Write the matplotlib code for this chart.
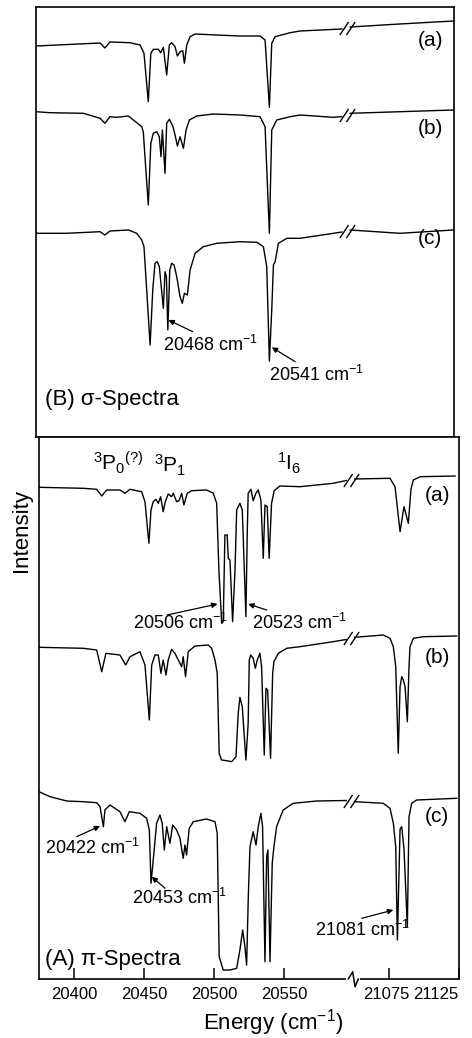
import numpy as np
import matplotlib
matplotlib.use("Agg")
import matplotlib.pyplot as plt
from matplotlib.path import Path
from matplotlib.transforms import ScaledTranslation

plt.rcParams['font.family'] = ['Liberation Sans', 'DejaVu Sans']
plt.rcParams['mathtext.default'] = 'regular'

# ---------------- data (energy in cm^-1, intensity in arbitrary units) ----------------
# (B) sigma spectra
sigma_a_x = [20375, 20421, 20424.5, 20428, 20442.5, 20449.7, 20452.5, 20455.6, 20457.4, 20459.2,
             20462.8, 20464.5, 20466.4, 20468.8, 20470.7, 20472.4, 20474.8, 20476.5, 20478.4, 20480.3,
             20481.5, 20483.2, 20485.6, 20489.2, 20504.7, 20521.5, 20535.8, 20539.4, 20542.5, 20544.2,
             20546.6, 20557.4, 20564.5, 20594.5, 21050.5, 21086, 21124.4]
sigma_a_y = [391, 394, 389, 395, 394.3, 392, 383.7, 335.3, 383.7, 387.7,
             387.7, 384.3, 389.7, 362, 392, 394.3, 390.3, 381, 385.3, 386.3,
             373.7, 392, 400.3, 403, 402, 401, 401, 397, 329.7, 393.7,
             400.3, 404.3, 406, 408, 410, 413, 416]

sigma_b_x = [20375, 20385, 20409, 20421, 20424.5, 20428, 20433, 20441.3, 20444.9, 20450.9,
             20452, 20455.6, 20457.4, 20459.2, 20461.7, 20463.5, 20464.7, 20465.7, 20467.6, 20468.8,
             20470.7, 20473.2, 20474.8, 20476.5, 20478.4, 20480.8, 20482.7, 20485.1, 20490.4, 20502.3,
             20521.5, 20535.8, 20539.4, 20542.5, 20544.2, 20547.8, 20557.4, 20564.5, 20588.2, 20594.5,
             21050.5, 21086.3, 21124.4]
sigma_b_y = [325.3, 324.3, 323.7, 318.7, 313.7, 320.3, 319.7, 321, 317, 310.3,
             305, 232, 293.7, 303.7, 305.3, 300.3, 280.3, 307, 263.7, 313.7,
             317.7, 311, 302, 291, 300.3, 288.7, 307, 317, 321, 323,
             322, 320.3, 310.3, 203.7, 307, 317, 320.3, 322, 319.7, 320.3,
             323.7, 325.3, 327]

sigma_c_x = [20375, 20397, 20421, 20424.5, 20428, 20441.3, 20447.3, 20450.9, 20452.5, 20456.9,
             20458.8, 20460.4, 20462.1, 20463.5, 20466.4, 20467.6, 20468.6, 20469.6, 20471.0, 20472.4,
             20474.1, 20476, 20478.4, 20480, 20481.5, 20483.6, 20485.6, 20489.2, 20495.1, 20504.7,
             20521.5, 20533.5, 20538.2, 20540.6, 20542.5, 20544.2, 20545.4, 20546.6, 20549, 20555,
             20564.5, 20588.5, 20594.5, 21050.5, 21086.3, 21124.4]
sigma_c_y = [203.7, 203.7, 205.3, 202, 206, 207, 203.7, 197, 190.3, 92,
             147, 173.7, 175.3, 170.3, 128.7, 165.3, 160.3, 107, 167, 173.7,
             172, 160.3, 140.3, 133.7, 143.7, 142, 167, 183.7, 190.3, 193.7,
             195.3, 194.7, 190.3, 170.3, 76, 127, 172, 175.3, 193.7, 198.7,
             198.7, 203.7, 205, 207, 203.7, 207]

# (A) pi spectra
pi_a_x = [20375, 20406.6, 20416.2, 20419.8, 20423.3, 20432.8, 20436.4, 20440, 20448.3, 20450.7,
          20453.5, 20455, 20456.6, 20458.5, 20460.2, 20461.9, 20463.7, 20465.2, 20467.3, 20469.7,
          20470.9, 20473.3, 20475, 20476.9, 20478.5, 20480.9, 20484, 20494.7, 20499.5, 20501.9,
          20503.5, 20505.5, 20506.6, 20507.8, 20509.4, 20510.2, 20511.4, 20513.3, 20515, 20516.2,
          20518.5, 20520.2, 20522.8, 20523.7, 20524.4, 20526.4, 20528, 20529.9, 20531.6, 20533.5,
          20535.2, 20536.4, 20538, 20539.4, 20541.1, 20543, 20547.1, 20561.4, 20585.1, 20594.5,
          21050.5, 21075.7, 21079.3, 21082.9, 21085.7, 21088.8, 21090.7, 21092.4, 21097.2, 21122.2]
pi_a_y = [491.7, 490.7, 489.7, 483, 489, 489, 485.7, 489.7, 487.3, 477.3,
          435.7, 469, 477.3, 479.7, 475.7, 482.3, 467.3, 477.3, 485, 482.3,
          485.7, 477.3, 478.3, 485.7, 474, 485.7, 488.3, 489, 485.7, 475.7,
          409, 355.7, 357.3, 444, 444, 420.7, 419, 357.3, 409, 469,
          475.7, 469, 362.3, 442.3, 485.7, 489.7, 478.3, 485.7, 489, 479,
          420.7, 474, 472.3, 420.7, 475.7, 488.3, 493, 492.3, 495.7, 498.5,
          500, 500.7, 492.3, 447.3, 472.3, 455.7, 490, 499, 502.3, 503]

pi_b_x = [20375, 20406.6, 20416.2, 20419.8, 20422.8, 20432.8, 20436.9, 20440, 20447.1, 20450.7,
          20453.8, 20455.5, 20457.8, 20460.2, 20462.1, 20463.7, 20465.7, 20467.3, 20469.7, 20472.1,
          20474.5, 20476.9, 20478, 20479.7, 20481.6, 20486.4, 20495.9, 20498.3, 20500.7, 20502.3,
          20503.7, 20505.4, 20509, 20512.6, 20515.7, 20517.3, 20518.5, 20520.2, 20522.8, 20524.4,
          20525.2, 20526.2, 20528, 20529.5, 20530.9, 20532.8, 20534, 20535.9, 20537.1, 20538.3,
          20540.4, 20541.9, 20542.8, 20545.9, 20551.9, 20561.4, 20585.1, 20594.5, 21050.5, 21070.9,
          21075.7, 21078.1, 21079.8, 21081.6, 21082.9, 21084.1, 21085.2, 21086.5, 21088.1, 21089.3,
          21090, 21092.4, 21099.5, 21123.3]
pi_b_y = [331.7, 330.7, 329, 307.3, 325.7, 324, 314, 322.3, 327.3, 314,
          259, 314, 324, 324, 305.7, 319, 304, 319, 329.7, 325.7,
          319, 312.3, 322.3, 302.3, 327.3, 333, 334, 330.7, 319, 305.7,
          225.7, 219, 218.3, 217.3, 222.3, 265.7, 281.7, 272.3, 219, 255.7,
          319, 324, 320.7, 310.7, 319, 325.7, 312.3, 224, 290.7, 289,
          220.7, 305.7, 317.3, 325.7, 330.7, 332.3, 337.3, 339.5, 341.7, 344,
          340.7, 332.3, 312.3, 225.7, 292.3, 302.3, 299, 292.3, 257.3, 312.3,
          332.3, 340.7, 342.3, 343]

pi_c_x = [20375, 20382.9, 20394.8, 20406.6, 20416.2, 20418.6, 20421, 20422.1, 20425.7, 20432.8,
          20436.4, 20439.5, 20447.1, 20451.9, 20453.8, 20455, 20456.6, 20459, 20461.4, 20463,
          20464.5, 20466.2, 20468.5, 20470.5, 20473.3, 20475.7, 20478, 20479.3, 20480.4, 20482.3,
          20485.2, 20494.7, 20500.7, 20502.3, 20503.7, 20506.6, 20511.4, 20516.2, 20518.5, 20520.5,
          20522.1, 20523.3, 20524.5, 20525.7, 20528, 20530, 20531.6, 20533.5, 20534.7, 20536.4,
          20537.6, 20538.5, 20540, 20541.6, 20542.8, 20544.7, 20549.4, 20556.6, 20573.3, 20594.5,
          21050.5, 21070.9, 21075.7, 21078.1, 21079.8, 21081, 21082.9, 21084.1, 21085.7, 21088.1,
          21089.3, 21091.2, 21094.7, 21123.3]
pi_c_y = [187.3, 182.3, 178, 177.3, 176.3, 172.3, 152.3, 169, 174, 167.3,
          157.3, 167.3, 165.7, 160.7, 149, 95.7, 119, 155.7, 164, 155.7,
          129, 152.3, 135.7, 154, 149, 140.7, 120.7, 134, 124, 150.7,
          157.3, 160, 157.3, 145.7, 22.3, 9, 9, 10.7, 29, 49,
          32.3, 14, 82.3, 132.3, 147.3, 134, 152.3, 165.7, 152.3, 17.3,
          122.3, 129, 17.3, 115.7, 132.3, 152.3, 169, 175.7, 178, 178.5,
          177.3, 175.7, 170.7, 155.7, 132.3, 39, 150, 152.3, 130, 52.3,
          162.3, 175.7, 179, 180.7]

xticks = [20400, 20450, 20500, 20550, 21075, 21125]
xtick_labels = ['20400', '20450', '20500', '20550', '21075', '21125']
trace_labels = ['(a)', '(b)', '(c)']

# ---------------- broken energy axis via a function scale ----------------
BREAK_LO, BREAK_HI = 20600, 21050
GAP = BREAK_HI - BREAK_LO


def fwd(x):
    x = np.asarray(x, dtype=float)
    return np.where(x <= BREAK_LO, x, x - GAP)


def inv(x):
    x = np.asarray(x, dtype=float)
    return np.where(x <= BREAK_LO, x, x + GAP)


slash_marker = Path([(-7, -6), (1, 6), (-1, -6), (7, 6)],
                    [Path.MOVETO, Path.LINETO, Path.MOVETO, Path.LINETO])

W, H = 472, 1038
fig = plt.figure(figsize=(W / 100, H / 100), dpi=100)
ax_s = fig.add_axes([36 / W, 1 - 437 / H, 418 / W, 430 / H])
ax_p = fig.add_axes([39 / W, 1 - 979 / H, 420 / W, 542 / H])

for ax in (ax_s, ax_p):
    ax.set_xscale('function', functions=(fwd, inv))
    ax.set_xlim(20375, 21125)
    ax.set_yticks([])
    for sp in ax.spines.values():
        sp.set_linewidth(1.2)

ax_s.set_ylim(0, 430)
ax_p.set_ylim(0, 542)


def draw_trace(ax, xs, ys):
    xs = np.asarray(xs, float)
    ys = np.asarray(ys, float)
    left = xs < BREAK_LO
    right = xs >= BREAK_HI
    ax.plot(xs[left], ys[left], color='black', lw=1.0)
    ax.plot(xs[right], ys[right], color='black', lw=1.0)
    yb = 0.5 * (ys[left][-1] + ys[right][0])
    ax.plot([20598], [yb], marker=slash_marker, ms=11, mew=1.0,
            color='black', linestyle='none')


for xs, ys in ((sigma_a_x, sigma_a_y), (sigma_b_x, sigma_b_y), (sigma_c_x, sigma_c_y)):
    draw_trace(ax_s, xs, ys)
for xs, ys in ((pi_a_x, pi_a_y), (pi_b_x, pi_b_y), (pi_c_x, pi_c_y)):
    draw_trace(ax_p, xs, ys)

# ticks
ax_s.set_xticks([])
ax_p.set_xticks(xticks)
ax_p.set_xticklabels(xtick_labels)
ax_p.tick_params(axis='x', direction='in', length=8, width=1.1, pad=6, labelsize=12)
tlabels = ax_p.get_xticklabels()
tlabels[-1].set_ha('right')
tlabels[-1].set_transform(tlabels[-1].get_transform() + ScaledTranslation(-1 / 100, 0, fig.dpi_scale_trans))
tlabels[-2].set_transform(tlabels[-2].get_transform() + ScaledTranslation(-2.5 / 100, 0, fig.dpi_scale_trans))

# axis break zigzag on bottom spine
bx = 0.75
zx = [bx - 5.7 / 420, bx - 1.3 / 420, bx + 1.0 / 420, bx + 4.3 / 420]
zy = [0, 7.3 / 542, -7.7 / 542, 0]
ax_p.plot([zx[0], zx[-1]], [0, 0], color='white', lw=3, transform=ax_p.transAxes,
          clip_on=False, zorder=5)
ax_p.plot(zx, zy, color='black', lw=1.1, transform=ax_p.transAxes, clip_on=False, zorder=6)

arrow_kw = dict(arrowstyle='-|>', color='black', lw=0.9, mutation_scale=8, shrinkA=0, shrinkB=0)
note_fs = 13
lab_fs = 16

# ---- top panel annotations
ax_s.text(20466.2, 92, '20468 cm$^{-1}$', fontsize=note_fs, ha='left', va='center')
ax_s.annotate('', xy=(20470.0, 117), xytext=(20487.5, 105.3), arrowprops=arrow_kw)
ax_s.text(20542.3, 62, '20541 cm$^{-1}$', fontsize=note_fs, ha='left', va='center')
ax_s.annotate('', xy=(20544.2, 89.7), xytext=(20561, 75.3), arrowprops=arrow_kw)
ax_s.text(20381.5, 37, '(B) σ-Spectra', fontsize=lab_fs, ha='left', va='center')
for lab, yy in zip(trace_labels, (397, 309, 198)):
    ax_s.text(21099.3, yy, lab, fontsize=15, ha='left', va='center')

# ---- bottom panel annotations
ax_p.text(20431.4, 516, r'$^3$P$_0{}^{(?)}$', fontsize=15, ha='center', va='center')
ax_p.text(20468.5, 514, r'$^3$P$_1$', fontsize=15, ha='center', va='center')
ax_p.text(20553.5, 516, r'$^1$I$_6$', fontsize=15, ha='center', va='center')

ax_p.text(20442.1, 356, '20506 cm$^{-1}$', fontsize=note_fs, ha='left', va='center')
ax_p.annotate('', xy=(20502.5, 375), xytext=(20466.4, 364), arrowprops=arrow_kw)
ax_p.text(20527.1, 356, '20523 cm$^{-1}$', fontsize=note_fs, ha='left', va='center')
ax_p.annotate('', xy=(20524.4, 375), xytext=(20537.6, 369), arrowprops=arrow_kw)
ax_p.text(20379.3, 130.7, '20422 cm$^{-1}$', fontsize=note_fs, ha='left', va='center')
ax_p.annotate('', xy=(20418.6, 153), xytext=(20401.9, 142.3), arrowprops=arrow_kw)
ax_p.text(20441.2, 81, '20453 cm$^{-1}$', fontsize=note_fs, ha='left', va='center')
ax_p.annotate('', xy=(20455.5, 102.3), xytext=(20465, 90.7), arrowprops=arrow_kw)
ax_p.text(20572.1, 49, '21081 cm$^{-1}$', fontsize=note_fs, ha='left', va='center')
ax_p.annotate('', xy=(21078.1, 69), xytext=(21055.5, 60.7), arrowprops=arrow_kw)
ax_p.text(20379.3, 19, '(A) π-Spectra', fontsize=lab_fs, ha='left', va='center')
for lab, yy in zip(trace_labels, (484, 322, 162.3)):
    ax_p.text(21100.7, yy, lab, fontsize=15, ha='left', va='center')

fig.text(22 / W, 1 - 530 / H, 'Intensity', rotation=90, ha='center', va='center', fontsize=lab_fs)
fig.text(273 / W, 1 - 1023 / H, 'Energy (cm$^{-1}$)', ha='center', va='center', fontsize=lab_fs)

fig.savefig('out.png', dpi=100)
